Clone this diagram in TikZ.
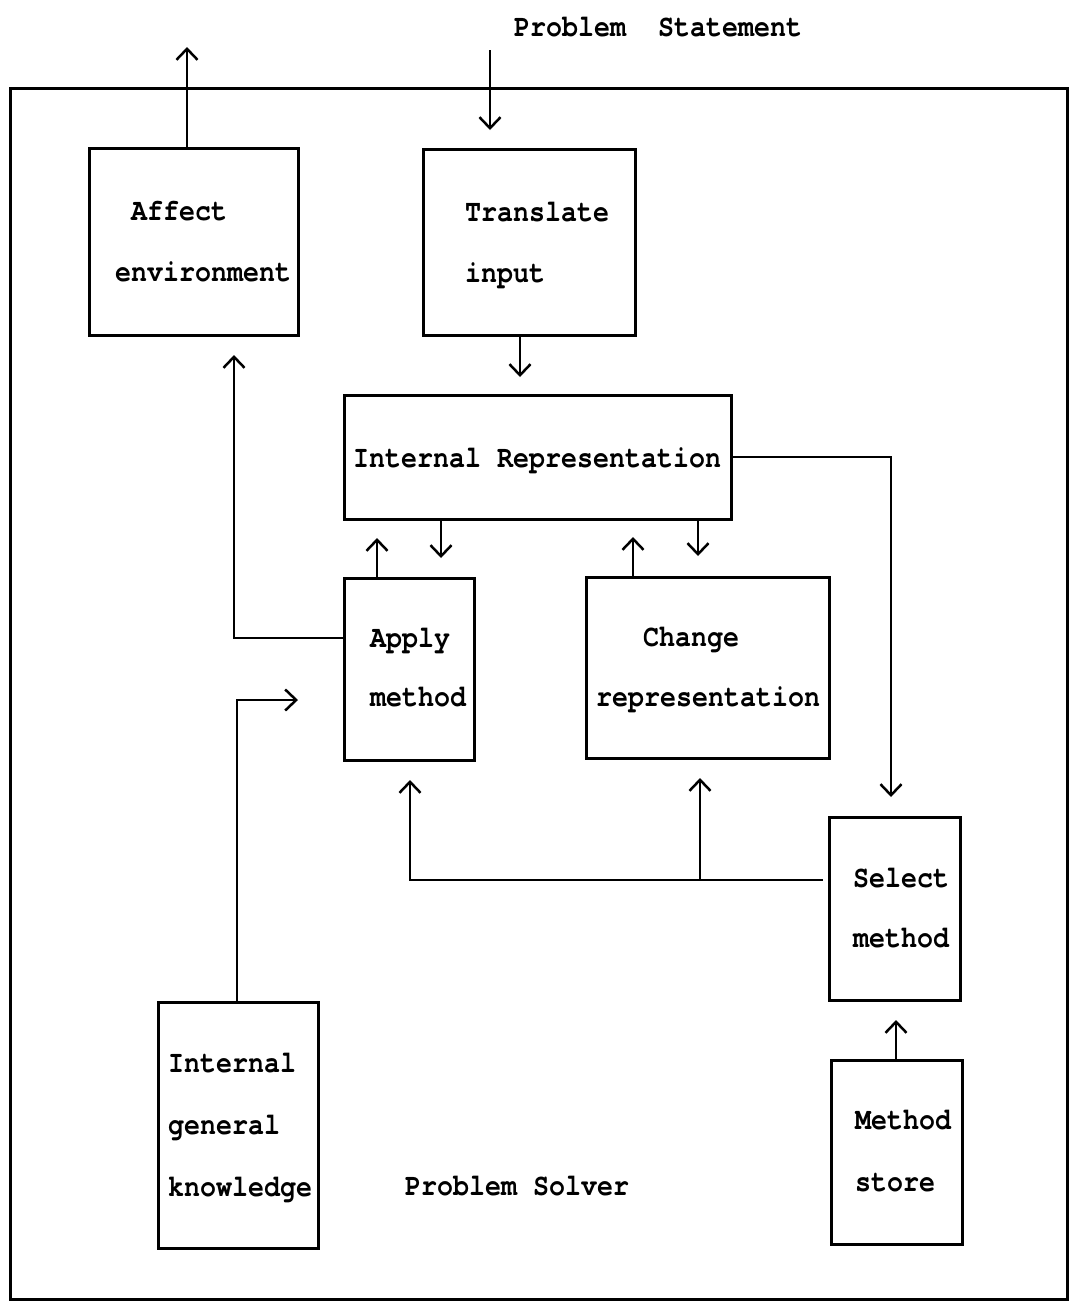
\documentclass[tikz,border=0pt]{standalone}
\usepackage{fontspec}
\setmonofont[FakeStretch=0.86,Ligatures=NoCommon]{TeX Gyre Cursor}
\usetikzlibrary{arrows.meta}
\begin{document}
\begin{tikzpicture}[x=1pt,y=-1pt,
  box/.style={draw,line width=3pt,inner sep=0pt},
  lbl/.style={anchor=base west,inner sep=0pt,font=\fontsize{31}{31}\selectfont\ttfamily\bfseries},
  conn/.style={line width=2.5pt},
  arr/.style={conn,-{Straight Barb[length=11pt,width=21pt,line width=2.5pt]}}]
\useasboundingbox (0,0) rectangle (1069,1302);
% frame
\draw[line width=3pt] (10,88) rectangle (1067,1299);
% boxes (corners in px)
\node[box,minimum width=209pt,minimum height=187pt] (affect) at (193.5,241.5) {};
\node[box,minimum width=212pt,minimum height=186pt] (translate) at (529,242) {};
\node[box,minimum width=387pt,minimum height=124pt] (ir) at (537.5,457) {};
\node[box,minimum width=130pt,minimum height=182pt] (apply) at (409,669) {};
\node[box,minimum width=243pt,minimum height=181pt] (change) at (707.5,667.5) {};
\node[box,minimum width=131pt,minimum height=183pt] (select) at (894.5,908.5) {};
\node[box,minimum width=160pt,minimum height=246pt] (igk) at (238,1125) {};
\node[box,minimum width=131pt,minimum height=184pt] (store) at (896.5,1152) {};
% labels
\node[lbl] (tps) at (514,36) {Problem\ \ Statement};
\node[lbl] (ta1) at (131,220) {Affect};
\node[lbl] (ta2) at (115,281) {environment};
\node[lbl] (tt1) at (465,221) {Translate};
\node[lbl] (tt2) at (465,282) {input};
\node[lbl] (tir) at (353,467) {Internal Representation};
\node[lbl] (tap1) at (370,647) {Apply};
\node[lbl] (tap2) at (370,706) {method};
\node[lbl] (tc1) at (643,646) {Change};
\node[lbl] (tc2) at (596,706) {representation};
\node[lbl] (ts1) at (853,887) {Select};
\node[lbl] (ts2) at (853,947) {method};
\node[lbl] (tg1) at (168,1072) {Internal};
\node[lbl] (tg2) at (168,1134) {general};
\node[lbl] (tg3) at (168,1196) {knowledge};
\node[lbl] (tm1) at (855,1129) {Method};
\node[lbl] (tm2) at (855,1191) {store};
\node[lbl] (tpsol) at (405,1195) {Problem Solver};
% free ends
\coordinate (out) at (187,47);
\coordinate (inp) at (490,50);
% connectors
\draw[arr] (affect.north -| out) -- (out);
\draw[arr] (inp) -- (490,130);
\draw[arr] (translate.south -| 520,0) -- (520,377);
\draw[arr] (ir.south -| 441,0) -- (441,558);
\draw[arr] (apply.north -| 377,0) -- (377,538);
\draw[arr] (ir.south -| 698,0) -- (698,556);
\draw[arr] (change.north -| 633,0) -- (633,537);
\draw[arr] (ir.east) -- (891,457) -- (891,797);
\draw[arr] (apply.west |- 0,638) -- (234,638) -- (234,355);
\draw[arr] (igk.north -| 237,0) -- (237,700) -- (298,700);
\draw[arr] (822,880) -- (410,880) -- (410,780);
\draw[arr] (700,880) -- (700,778);
\draw[conn] (select.west |- 0,880) ++(-6,0) -- (822,880);
\draw[arr] (store.north -| 896,0) -- (896,1020);
\end{tikzpicture}
\end{document}
